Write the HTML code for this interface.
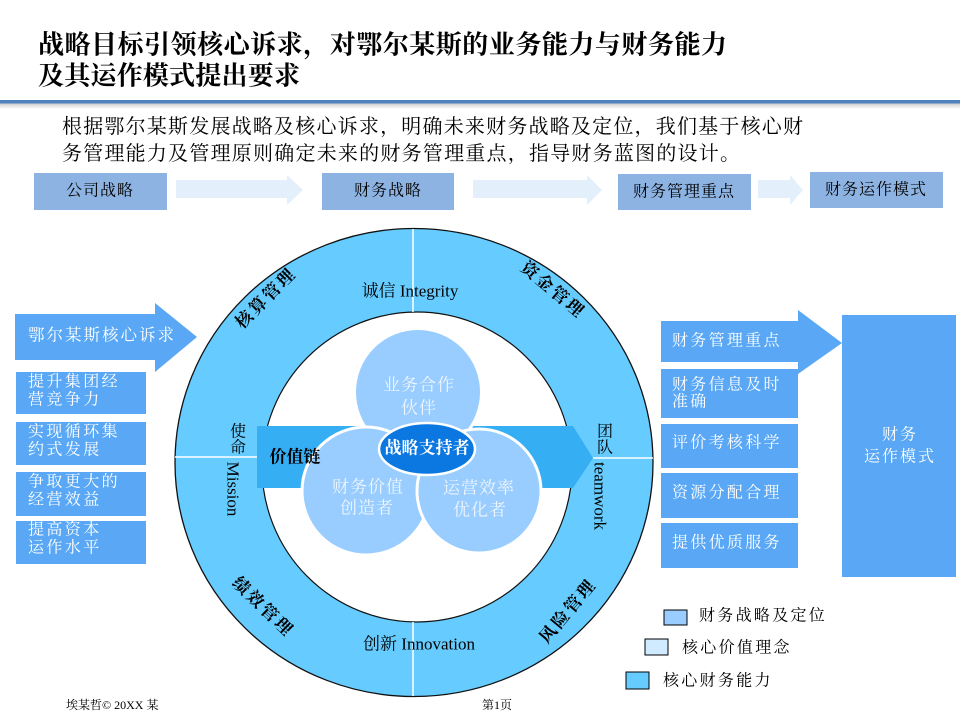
<!DOCTYPE html>
<html><head><meta charset="utf-8">
<style>
html,body{margin:0;padding:0;background:#fff;}
svg{display:block;}
text{font-family:"Liberation Serif","Noto Serif CJK SC",serif;}
</style></head>
<body>
<svg width="960" height="720" viewBox="0 0 960 720" xmlns="http://www.w3.org/2000/svg">
<defs>
<linearGradient id="sh" x1="0" y1="0" x2="0" y2="1">
<stop offset="0" stop-color="#c8c8c8"/><stop offset="1" stop-color="#ffffff"/>
</linearGradient>
</defs>
<rect width="960" height="720" fill="#fff"/>

<!-- Title -->
<text x="38" y="45" font-size="26" font-weight="bold" dominant-baseline="central" textLength="689" lengthAdjust="spacing">战略目标引领核心诉求，对鄂尔某斯的业务能力与财务能力</text>
<text x="38" y="76" font-size="26" font-weight="bold" dominant-baseline="central" textLength="262" lengthAdjust="spacing">及其运作模式提出要求</text>

<!-- rule -->
<rect x="0" y="103" width="960" height="6" fill="url(#sh)"/>
<rect x="0" y="100" width="960" height="3.5" fill="#4f81bd"/>

<!-- paragraph -->
<text x="62" y="127" font-size="20" dominant-baseline="central" textLength="741" lengthAdjust="spacing">根据鄂尔某斯发展战略及核心诉求，明确未来财务战略及定位，我们基于核心财</text>
<text x="62" y="154" font-size="20" dominant-baseline="central" textLength="678" lengthAdjust="spacing">务管理能力及管理原则确定未来的财务管理重点，指导财务蓝图的设计。</text>

<!-- flow row -->
<rect x="34" y="173" width="133" height="37" fill="#8db3e2"/>
<rect x="322" y="173" width="132" height="37" fill="#8db3e2"/>
<rect x="618" y="174" width="133" height="36" fill="#8db3e2"/>
<rect x="810" y="172" width="133" height="36" fill="#8db3e2"/>
<polygon points="176,180 287,180 287,175 303,190 287,205 287,198 176,198" fill="#e3f0fb"/>
<polygon points="473,180 587,180 587,175 602,190 587,205 587,198 473,198" fill="#e3f0fb"/>
<polygon points="758,180 790,180 790,175 803,190 790,205 790,198 758,198" fill="#e3f0fb"/>
<g font-size="16" text-anchor="middle" dominant-baseline="central" fill="#000">
<text x="100" y="191" letter-spacing="1">公司战略</text>
<text x="388" y="191" letter-spacing="1">财务战略</text>
<text x="684" y="192" letter-spacing="1">财务管理重点</text>
<text x="876" y="190" letter-spacing="1">财务运作模式</text>
</g>

<!-- Left side -->
<polygon points="15,314 155,314 155,303 197,337 155,372 155,360 15,360" fill="#5aa8f5"/>
<text x="28" y="335" font-size="16.5" fill="#fff" dominant-baseline="central" letter-spacing="2">鄂尔某斯核心诉求</text>
<g fill="#5aa8f5">
<rect x="16" y="372" width="130" height="42"/>
<rect x="16" y="422" width="130" height="43"/>
<rect x="16" y="472" width="130" height="44"/>
<rect x="16" y="521" width="130" height="43"/>
</g>
<g font-size="16" fill="#fff" dominant-baseline="central" letter-spacing="2.4">
<text x="28" y="382">提升集团经</text><text x="28" y="400">营竞争力</text>
<text x="28" y="432">实现循环集</text><text x="28" y="450">约式发展</text>
<text x="28" y="482">争取更大的</text><text x="28" y="500">经营效益</text>
<text x="28" y="530">提高资本</text><text x="28" y="548">运作水平</text>
</g>

<!-- Right side -->
<polygon points="661,321 798,321 798,310 842,343 798,374 798,362 661,362" fill="#5aa8f5"/>
<text x="672" y="341" font-size="16" fill="#fff" dominant-baseline="central" letter-spacing="2.3">财务管理重点</text>
<g fill="#5aa8f5">
<rect x="661" y="369" width="137" height="49"/>
<rect x="661" y="424" width="137" height="44"/>
<rect x="661" y="473" width="137" height="45"/>
<rect x="661" y="523" width="137" height="45"/>
<rect x="842" y="315" width="114" height="262"/>
</g>
<g font-size="16" fill="#fff" dominant-baseline="central" letter-spacing="2.3">
<text x="672" y="385">财务信息及时</text><text x="672" y="402">准确</text>
<text x="672" y="443">评价考核科学</text>
<text x="672" y="493">资源分配合理</text>
<text x="672" y="543">提供优质服务</text>
</g>
<g font-size="16" fill="#fff" dominant-baseline="central" text-anchor="middle" letter-spacing="2">
<text x="900" y="435">财务</text>
<text x="900" y="457">运作模式</text>
</g>

<!-- Ring -->
<ellipse cx="414" cy="462.5" rx="239" ry="234" fill="#66ccff" stroke="#111" stroke-width="1.3"/>
<circle cx="417" cy="467" r="155" fill="#fff" stroke="#111" stroke-width="1.2"/>
<g stroke="#fff" stroke-width="1.5">
<line x1="413" y1="229" x2="413" y2="312"/>
<line x1="413" y1="622" x2="413" y2="696"/>
<line x1="175" y1="457" x2="257" y2="457"/>
<line x1="593" y1="458" x2="653" y2="458"/>
</g>

<!-- arrow through center -->
<polygon points="257,426 573,426 593,458 573,488 257,488" fill="#35aef3"/>

<!-- three circles -->
<circle cx="418" cy="392" r="63.5" fill="#99ccff" stroke="#fff" stroke-width="3"/>
<circle cx="366" cy="491" r="64" fill="#99ccff" stroke="#fff" stroke-width="3"/>
<circle cx="479" cy="491" r="62" fill="#99ccff" stroke="#fff" stroke-width="3"/>
<ellipse cx="427" cy="449" rx="48" ry="26" fill="#0a78e0" stroke="#fff" stroke-width="2.5"/>

<g font-size="17" fill="#eef6ff" text-anchor="middle" dominant-baseline="central" letter-spacing="1">
<text x="419" y="385">业务合作</text><text x="419" y="408">伙伴</text>
<text x="368" y="487">财务价值</text><text x="367" y="508">创造者</text>
<text x="479" y="488">运营效率</text><text x="480" y="510">优化者</text>
</g>
<text x="427" y="448" font-size="17" font-weight="bold" fill="#fff" text-anchor="middle" dominant-baseline="central">战略支持者</text>

<text x="295" y="457" font-size="17" font-weight="bold" fill="#000" text-anchor="middle" dominant-baseline="central">价值链</text>

<!-- ring labels -->
<g font-size="17" fill="#000" dominant-baseline="central">
<text x="410" y="291" text-anchor="middle">诚信 Integrity</text>
<text x="419" y="644" text-anchor="middle">创新 Innovation</text>
<text x="238" y="432" text-anchor="middle" font-size="16">使</text>
<text x="238" y="448" text-anchor="middle" font-size="16">命</text>
<text transform="translate(233,489) rotate(90)" text-anchor="middle">Mission</text>
<text x="605" y="432" text-anchor="middle" font-size="16">团</text>
<text x="605" y="448" text-anchor="middle" font-size="16">队</text>
<text transform="translate(600,496) rotate(90)" text-anchor="middle">teamwork</text>
</g>
<g font-size="17" font-weight="bold" fill="#000" text-anchor="middle" dominant-baseline="central" letter-spacing="2.5">
<text transform="translate(266,298) rotate(-45)">核算管理</text>
<text transform="translate(553,290) rotate(40)">资金管理</text>
<text transform="translate(263,607) rotate(44)">绩效管理</text>
<text transform="translate(568,611) rotate(-50)">风险管理</text>
</g>

<!-- legend -->
<rect x="664" y="610" width="23" height="15" fill="#99ccff" stroke="#000" stroke-width="1"/>
<rect x="645" y="639" width="23" height="16" fill="#d0eaff" stroke="#000" stroke-width="1"/>
<rect x="626" y="672" width="23" height="17" fill="#66ccff" stroke="#000" stroke-width="1"/>
<g font-size="16" fill="#000" dominant-baseline="central" letter-spacing="2.3">
<text x="699" y="616">财务战略及定位</text>
<text x="682" y="648">核心价值理念</text>
<text x="663" y="681">核心财务能力</text>
</g>

<!-- footer -->
<text x="66" y="705" font-size="12" fill="#000" dominant-baseline="central">埃某哲©  20XX 某</text>
<text x="482" y="705" font-size="12" fill="#000" dominant-baseline="central">第1页</text>
</svg>
</body></html>
